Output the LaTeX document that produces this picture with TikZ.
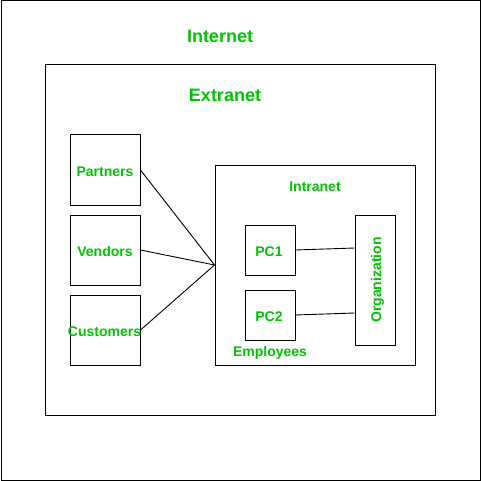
\documentclass[tikz,border=0pt]{standalone}
\usepackage{fontspec}
\setmainfont{Liberation Sans}
\definecolor{lblgreen}{RGB}{0,196,0}
\begin{document}
\begin{tikzpicture}[x=1pt,y=-1pt,
  box/.style={draw=black,line width=1pt,minimum width=#1,inner sep=0pt},
  lbl/.style={text=lblgreen,font=\bfseries\fontsize{14}{16}\selectfont,inner sep=0pt,anchor=base},
  biglbl/.style={text=lblgreen,font=\bfseries\fontsize{18}{20}\selectfont,inner sep=0pt,anchor=base},
  conn/.style={draw=black,line width=0.9pt}]
\useasboundingbox (0,0) rectangle (481,481);
\node[draw=black,line width=1pt,minimum width=479pt,minimum height=479pt,inner sep=0pt] (internetbox) at (240.5,240.5) {};
\node[draw=black,line width=1pt,minimum width=390pt,minimum height=350pt,inner sep=0pt] (extranetbox) at (240,240) {};
\node[draw=black,line width=1pt,minimum width=70pt,minimum height=70pt,inner sep=0pt] (partners) at (105,170) {};
\node[draw=black,line width=1pt,minimum width=70pt,minimum height=70pt,inner sep=0pt] (vendors) at (105,250) {};
\node[draw=black,line width=1pt,minimum width=70pt,minimum height=70pt,inner sep=0pt] (customers) at (105,330) {};
\node[draw=black,line width=1pt,minimum width=200pt,minimum height=200pt,inner sep=0pt] (intranet) at (315,265) {};
\node[draw=black,line width=1pt,minimum width=50pt,minimum height=50pt,inner sep=0pt] (pc1) at (270,250) {};
\node[draw=black,line width=1pt,minimum width=50pt,minimum height=50pt,inner sep=0pt] (pc2) at (270,315) {};
\node[draw=black,line width=1pt,minimum width=40pt,minimum height=130pt,inner sep=0pt] (org) at (375,280) {};

\node[biglbl] (tinternet) at (220,42.5) {Internet};
\node[biglbl] (textranet) at (225,102) {Extranet};
\node[lbl] (tpartners) at (105,176) {Partners};
\node[lbl] (tvendors) at (105,256) {Vendors};
\node[lbl] (tcustomers) at (104.5,336) {Customers};
\node[lbl] (tintranet) at (315,191) {Intranet};
\node[lbl] (tpc1) at (269,256) {PC1};
\node[lbl] (tpc2) at (269,321) {PC2};
\node[lbl] (temployees) at (270,356) {Employees};
\node[lbl,rotate=90] (torg) at (381,280) {Organization};

\draw[conn] (partners.east) -- (intranet.west);
\draw[conn] (vendors.east) -- (intranet.west);
\draw[conn] (customers.east) -- (intranet.west);
\draw[conn] (pc1.east) -- ([yshift=2pt]org.west |- pc1.east);
\draw[conn] (pc2.east) -- ([yshift=2pt]org.west |- pc2.east);
\end{tikzpicture}
\end{document}
